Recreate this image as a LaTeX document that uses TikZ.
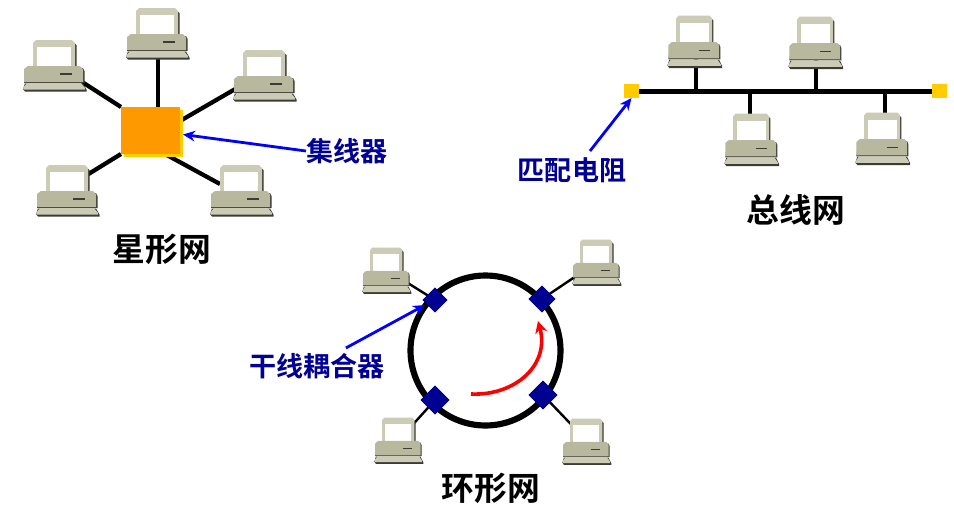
\documentclass[tikz,border=0pt]{standalone}
\usepackage{fontspec}
\newfontfamily\cjk{Noto Sans CJK SC}[BoldFont={Noto Sans CJK SC Bold}]
\usetikzlibrary{arrows.meta,calc,shapes.geometric}
\definecolor{pcbody}{HTML}{B8B89E}
\definecolor{pclight}{HTML}{CBCBB6}
\definecolor{pcdark}{HTML}{3C3C34}
\definecolor{navytxt}{RGB}{0,0,150}
\definecolor{coupler}{RGB}{0,0,145}
\definecolor{termyellow}{RGB}{255,204,0}
\definecolor{huborange}{RGB}{255,153,0}
\tikzset{
 wire/.style={line width=3.2pt,black},
 thin wire/.style={line width=1.8pt,black},
 ptr/.style={draw=blue,line width=2.1pt,-{Stealth[length=9pt,width=8pt]}},
 toplabel/.style={font=\cjk\bfseries\fontsize{24.6}{24.6}\selectfont,black,inner sep=0pt},
 bluecap/.style={font=\cjk\bfseries\fontsize{20.3}{20.3}\selectfont,navytxt,inner sep=0pt},
 couplerbox/.style={diamond,fill=coupler,inner sep=0pt,outer sep=0pt,aspect=1,minimum size=#1},
 term/.style={fill=termyellow,inner sep=0pt,outer sep=0pt,minimum width=11.5pt,minimum height=10.5pt},
 computer/.pic={
  \fill[pcdark] (-19,-23) -- (18,-23) -- (21.5,-20) -- (21.5,4) -- (-21,4) -- cycle;
  \fill[pclight] (-19,-25) -- (17,-25) -- (20,-22) -- (20,3) -- (-22,3) -- (-22,-22) -- cycle;
  \fill[white] (-18,-18) rectangle (16,1);
  \fill[pcdark] (-29,3) -- (28,3) -- (29.5,6) -- (29.5,18) -- (-31,18) -- cycle;
  \fill[pcbody] (-27,1) -- (25,1) -- (28,4) -- (28,17) -- (-31,17) -- (-31,4) -- cycle;
  \draw[pcdark,line width=.8pt] (5,9) -- (17,9);
  \fill[pcdark] (-32,24) -- (-30,18.5) -- (28,18.5) -- (31.5,24.5) -- (31.5,26.5) -- (-30,26.5) -- cycle;
  \fill[pclight] (-32,23) -- (-28,18) -- (26,18) -- (30,23) -- (30,24.5) -- (-31,24.5) -- cycle;
 }
}
\begin{document}
\begin{tikzpicture}[x=0.75pt,y=-0.75pt]
\useasboundingbox[fill=white] (0,0) rectangle (954,529);
% ---- star
\coordinate (s1) at (55,65);
\coordinate (s2) at (158,33);
\coordinate (s3) at (265,75);
\coordinate (s4) at (68,190);
\coordinate (s5) at (242,190);
\node[inner sep=0pt,outer sep=0pt,minimum width=44.25pt,minimum height=35.25pt,anchor=north west] (hub) at (121,107) {};
\draw[wire] ($(s1)+(24,15)$) -- (hub.north west);
\draw[wire] (s2) -- (s2 |- hub.north);
\draw[wire] ($(s3)+(-28,13)$) -- ($(hub.north east)+(0,14)$);
\draw[wire] ($(s4)+(14,-12)$) -- (hub.south west);
\draw[wire] ($(s5)+(-22,-6)$) -- ($(hub.south east)+(-15,0)$);
\fill[termyellow] ($(hub.north west)+(3,3)$) rectangle ($(hub.south east)+(3,3)$);
\fill[huborange] (hub.north west) rectangle (hub.south east);
\foreach \c in {s1,s2,s3,s4,s5} \pic at (\c) {computer};
\node[bluecap,anchor=west] (hublabel) at (306,151) {集线器};
\draw[ptr] (hublabel.west) -- ($(hub.east)+(3,4)$);
\node[toplabel] (starlabel) at (162,249) {星形网};
% ---- bus
\node[term] (t1) at (631.5,91) {};
\node[term] (t2) at (939.5,91) {};
\coordinate (b1) at (695,41);
\coordinate (b2) at (816,42);
\coordinate (b3) at (752,139);
\coordinate (b4) at (883,138);
\coordinate (j1) at (696,91);
\coordinate (j2) at (816,91);
\coordinate (j3) at (750,91);
\coordinate (j4) at (885,91);
\draw[wire] (b1 -| j1) -- (j1);
\draw[wire] (b2 -| j2) -- (j2);
\draw[wire] (j3) -- (b3 -| j3);
\draw[wire] (j4) -- (b4 -| j4);
\draw[line width=3.75pt] (t1) -- (t2);
\node[term] at (t1) {};
\node[term] at (t2) {};
\foreach \c in {b1,b2,b3,b4} \pic[xscale=.86,yscale=1.02] at (\c) {computer};
\node[bluecap,anchor=north] (termlabel) at (572,157) {匹配电阻};
\draw[ptr] ($(termlabel.north)+(18,-6)$) -- (t1.south);
\node[toplabel] (buslabel) at (796,210) {总线网};
% ---- ring
\coordinate (ringc) at (485.5,350.5);
\coordinate (r1) at (387,270);
\coordinate (r2) at (597,262);
\coordinate (r3) at (399,440);
\coordinate (r4) at (587,441);
\node[couplerbox=18.5pt] (d1) at (435,300) {};
\node[couplerbox=20pt] (d2) at (542,299) {};
\node[couplerbox=21.5pt] (d3) at (435,400) {};
\node[couplerbox=21.5pt] (d4) at (543,395) {};
\draw[thin wire] (r1) -- (d1.center);
\draw[thin wire] (r2) -- (d2.center);
\draw[thin wire] (r3) -- (d3.center);
\draw[thin wire] (r4) -- (d4.center);
\draw[line width=4.6pt] (ringc) circle[radius=75];
\node[couplerbox=18.5pt] at (d1) {};
\node[couplerbox=20pt] at (d2) {};
\node[couplerbox=21.5pt] at (d3) {};
\node[couplerbox=21.5pt] at (d4) {};
\foreach \c in {r1,r2,r3,r4} \pic[xscale=.77,yscale=.9] at (\c) {computer};
\coordinate (arcs) at (471,394);
\coordinate (arce) at (538,321);
\draw[red,line width=2.7pt,-{Stealth[length=9pt,width=9pt]}] (arcs) .. controls (515,396) and (550,365) .. (arce);
\node[bluecap,anchor=west] (couplerlabel) at (249,366) {干线耦合器};
\draw[ptr] ($(couplerlabel.north)+(29,-5)$) -- ($(d1.center)+(-10,5)$);
\node[toplabel] (ringlabel) at (491,488) {环形网};
\end{tikzpicture}
\end{document}
